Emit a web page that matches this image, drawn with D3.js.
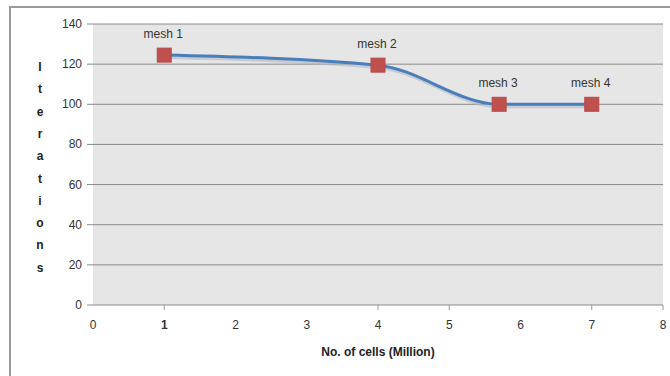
<!DOCTYPE html>
<html>
<head>
<meta charset="utf-8">
<script src="https://cdn.jsdelivr.net/npm/d3@7"></script>
<style>
  body { margin: 0; background: #fff; }
  text { font-family: "Liberation Sans", Arial, sans-serif; }
</style>
</head>
<body>
<div id="vizArea"></div>
<script>
// data
const meshNames = ['mesh 1', 'mesh 2', 'mesh 3', 'mesh 4']
const cells = [1, 4, 5.7, 7]
const iterations = [124.5, 119.5, 100, 100]
const xTicks = [0, 1, 2, 3, 4, 5, 6, 7, 8]
const xTickMarks = [1, 4, 5, 7, 8]
const yTicks = [0, 20, 40, 60, 80, 100, 120, 140]
const yTitle = 'Iterations'

const width = 670, height = 376
const margin = {top: 24, right: 7, bottom: 71, left: 93}

const svg = d3.select('#vizArea')
    .append('svg')
    .attr('width', width)
    .attr('height', height)

// outer chart border
svg.append('rect')
    .attr('x', 10).attr('y', 7)
    .attr('width', 668).attr('height', 380)
    .attr('fill', '#fff')
    .attr('stroke', '#999')
    .attr('stroke-width', 2)

const x = d3.scaleLinear().domain([0, 8]).range([margin.left, width - margin.right])
const y = d3.scaleLinear().domain([0, 140]).range([height - margin.bottom, margin.top])

// plot background
svg.append('rect')
    .attr('x', x(0)).attr('y', y(140))
    .attr('width', x(8) - x(0)).attr('height', y(0) - y(140))
    .attr('fill', '#e6e6e6')

// gridlines + y ticks
svg.selectAll('.grid')
    .data(yTicks)
    .enter()
    .append('line')
    .attr('x1', x(0) - 6).attr('x2', x(8))
    .attr('y1', d => y(d)).attr('y2', d => y(d))
    .attr('stroke', '#8a8a8a')
    .attr('stroke-width', 1)

svg.selectAll('.ylab')
    .data(yTicks)
    .enter()
    .append('text')
    .attr('x', x(0) - 11)
    .attr('y', d => y(d) + 4)
    .attr('text-anchor', 'end')
    .attr('font-size', 12)
    .attr('fill', '#333')
    .text(d => d)

// x tick marks and labels
svg.selectAll('.xtick')
    .data(xTickMarks)
    .enter()
    .append('line')
    .attr('x1', d => x(d)).attr('x2', d => x(d))
    .attr('y1', y(0)).attr('y2', y(0) + 5)
    .attr('stroke', '#999')

svg.selectAll('.xlab')
    .data(xTicks)
    .enter()
    .append('text')
    .attr('x', d => x(d))
    .attr('y', y(0) + 24)
    .attr('text-anchor', 'middle')
    .attr('font-size', 12)
    .attr('font-weight', d => d === 1 ? 'bold' : 'normal')
    .attr('fill', '#333')
    .text(d => d)

// axis titles
svg.append('text')
    .attr('x', x(4))
    .attr('y', 356)
    .attr('text-anchor', 'middle')
    .attr('font-size', 12)
    .attr('font-weight', 'bold')
    .attr('fill', '#222')
    .text('No. of cells (Million)')

svg.selectAll('.ytitle')
    .data(yTitle.split(''))
    .enter()
    .append('text')
    .attr('x', 40)
    .attr('y', (d, i) => 71 + i * 22.3)
    .attr('text-anchor', 'middle')
    .attr('font-size', 12)
    .attr('font-weight', 'bold')
    .attr('fill', '#222')
    .text(d => d)

// series
const points = cells.map((c, i) => ({name: meshNames[i], x: c, y: iterations[i]}))

const line = d3.line()
    .x(d => x(d.x))
    .y(d => y(d.y))
    .curve(d3.curveMonotoneX)

svg.append('path')
    .datum(points)
    .attr('d', line)
    .attr('fill', 'none')
    .attr('stroke', '#b0b8c4')
    .attr('stroke-width', 4)
    .attr('transform', 'translate(1,2)')
    .attr('opacity', 0.6)

svg.append('path')
    .datum(points)
    .attr('d', line)
    .attr('fill', 'none')
    .attr('stroke', '#4a7ebb')
    .attr('stroke-width', 3)

svg.selectAll('.marker')
    .data(points)
    .enter()
    .append('rect')
    .attr('x', d => x(d.x) - 7)
    .attr('y', d => y(d.y) - 7)
    .attr('width', 14).attr('height', 14)
    .attr('fill', '#c0504d')
    .attr('stroke', '#b84a47')

svg.selectAll('.dlabel')
    .data(points)
    .enter()
    .append('text')
    .attr('x', d => x(d.x) - 1)
    .attr('y', d => y(d.y) - 17)
    .attr('text-anchor', 'middle')
    .attr('font-size', 12)
    .attr('fill', '#333')
    .text(d => d.name)
</script>
</body>
</html>
